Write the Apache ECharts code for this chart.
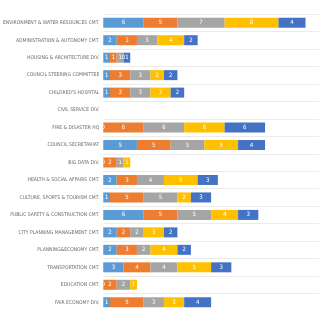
<!DOCTYPE html>
<html>
<head>
<meta charset="utf-8">
<script src="https://cdn.jsdelivr.net/npm/echarts@6/dist/echarts.min.js"></script>
<style>
  html, body { margin: 0; padding: 0; background: #fff; }
  #chart { width: 319px; height: 311px; }
</style>
</head>
<body>
<div id="chart"></div>
<script>
  // categories, top to bottom
  var departments = [
    'ENVIRONMENT & WATER RESOURCES CMT.',
    'ADMINISTRATION & AUTONOMY CMT.',
    'HOUSING & ARCHITECTURE DIV.',
    'COUNCIL STEERING COMMITTEE',
    "CHILDRED'S HOSPITAL",
    'CIVIL SERVICE DIV.',
    'FIRE & DISASTER HQ',
    'COUNCIL SECRETARIAT',
    'BIG DATA DIV.',
    'HEALTH & SOCIAL AFFAIRS CMT.',
    'CULTURE, SPORTS & TOURISM CMT.',
    'PUBLIC SAFETY & CONSTRUCTION CMT.',
    'CITY PLANNING MANAGEMENT CMT.',
    'PLANNING&ECONOMY CMT.',
    'TRANSPORTATION CMT.',
    'EDUCATION CMT.',
    'FAIR ECONOMY DIV.'
  ];

  var s1 = [6, 2, 1, 1, 1, null, 0, 5, 0, 2, 1, 6, 2, 2, 3, 0, 1];
  var s2 = [5, 3, 1, 3, 3, null, 6, 5, 2, 3, 5, 5, 2, 3, 4, 2, 5];
  var s3 = [7, 3, 1, 3, 3, null, 6, 5, 1, 4, 5, 5, 2, 2, 4, 2, 3];
  var s4 = [8, 4, 0, 2, 3, null, 6, 5, 1, 5, 2, 4, 3, 4, 5, 1, 3];
  var s5 = [4, 2, 1, 2, 2, null, 6, 4, null, 3, 3, 3, 2, 2, 3, null, 4];

  var colors = ['#5B9BD5', '#ED7D31', '#A5A5A5', '#FFC000', '#4472C4'];

  var chart = echarts.init(document.getElementById('chart'));

  function makeSeries(name, data) {
    return {
      name: name,
      type: 'bar',
      stack: 'total',
      barWidth: 10,
      data: data,
      label: {
        show: true,
        position: 'inside',
        color: '#fff',
        fontSize: 6,
        fontFamily: 'DejaVu Sans Condensed'
      }
    };
  }

  chart.setOption({
    animation: false,
    color: colors,
    grid: { left: 101, right: 0, top: 14, bottom: -2, containLabel: false },
    xAxis: {
      type: 'value',
      min: 0,
      max: 32,
      show: false
    },
    yAxis: {
      type: 'category',
      inverse: true,
      data: departments,
      axisLine: { show: false },
      axisTick: { show: false },
      splitLine: { show: true, lineStyle: { color: '#ebebeb', width: 1 } },
      axisLabel: {
        color: '#6b6b6b',
        fontSize: 5,
        fontFamily: 'DejaVu Sans Condensed',
        margin: 4,
        interval: 0
      }
    },
    series: [
      makeSeries('A', s1),
      makeSeries('B', s2),
      makeSeries('C', s3),
      makeSeries('D', s4),
      makeSeries('E', s5)
    ]
  });
</script>
</body>
</html>
